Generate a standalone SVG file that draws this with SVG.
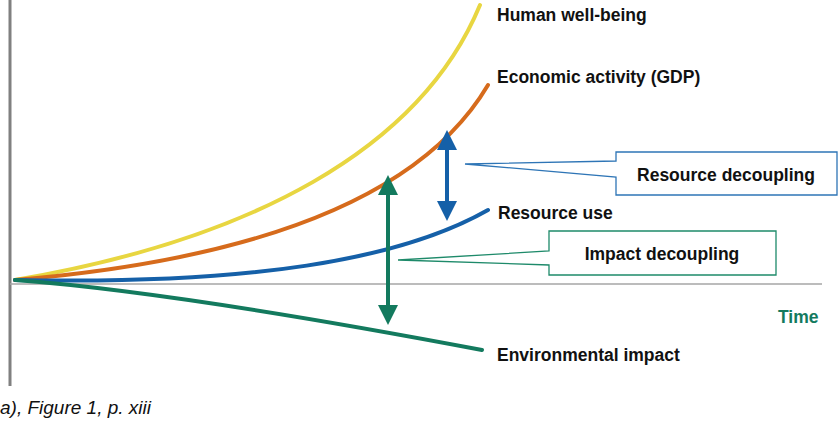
<svg xmlns="http://www.w3.org/2000/svg" width="839" height="433" viewBox="0 0 839 433">
<style>
text{font-family:"Liberation Sans",Arial,sans-serif;font-weight:bold;font-size:17.5px;fill:#111}
.c{fill:none;stroke-width:4;stroke-linecap:round}
</style>
<defs>
<marker id="ab" viewBox="0 0 10 10" refX="5" refY="5" markerWidth="5" markerHeight="5" orient="auto-start-reverse" markerUnits="strokeWidth"><path d="M0,0L10,5L0,10z" fill="#1560a8"/></marker>
<marker id="ag" viewBox="0 0 10 10" refX="5" refY="5" markerWidth="5" markerHeight="5" orient="auto-start-reverse" markerUnits="strokeWidth"><path d="M0,0L10,5L0,10z" fill="#137a5e"/></marker>
</defs>
<g id="axes">
<line x1="10" y1="0" x2="10" y2="386" stroke="#808080" stroke-width="3"/>
<line x1="10" y1="284" x2="822" y2="284" stroke="#a6a6a6" stroke-width="1.5"/>
</g>
<g id="curves">
<path class="c" stroke="#e8d641" d="M15,280 C250,240 420,150 480,5"/>
<path class="c" stroke="#d66b1c" d="M15,280 C250,260 420,200 488,85"/>
<path class="c" stroke="#1560a8" d="M15,280 C250,285 400,260 488,210"/>
<path class="c" stroke="#137a5e" d="M15,280 C150,290 350,325 482,350"/>
</g>
<g id="connectors">
<line x1="447" y1="140" x2="447" y2="211" stroke="#1560a8" stroke-width="4" marker-start="url(#ab)" marker-end="url(#ab)"/>
<line x1="388" y1="185" x2="388" y2="315" stroke="#137a5e" stroke-width="4" marker-start="url(#ag)" marker-end="url(#ag)"/>
</g>
<g id="resource-decoupling">
<path d="M616,161 L616,152 L837,152 L837,195 L616,195 L616,177 L465,164 Z" fill="#fff" stroke="#2e75b6" stroke-width="1.3"/>
<text x="726" y="181" text-anchor="middle">Resource decoupling</text>
</g>
<g id="impact-decoupling">
<path d="M549,251 L549,231 L776,231 L776,275 L549,275 L549,265 L398,260 Z" fill="#fff" stroke="#1e8a6a" stroke-width="1.3"/>
<text x="662" y="260" text-anchor="middle">Impact decoupling</text>
</g>
<g id="labels">
<text x="497" y="21">Human well-being</text>
<text x="497" y="83">Economic activity (GDP)</text>
<text x="498" y="219">Resource use</text>
<text x="497" y="361">Environmental impact</text>
<text x="778" y="323" style="fill:#137a5e">Time</text>
<text x="0" y="414" style="font-weight:normal;font-style:italic;font-size:19px">a), Figure 1, p. xiii</text>
</g>
</svg>
